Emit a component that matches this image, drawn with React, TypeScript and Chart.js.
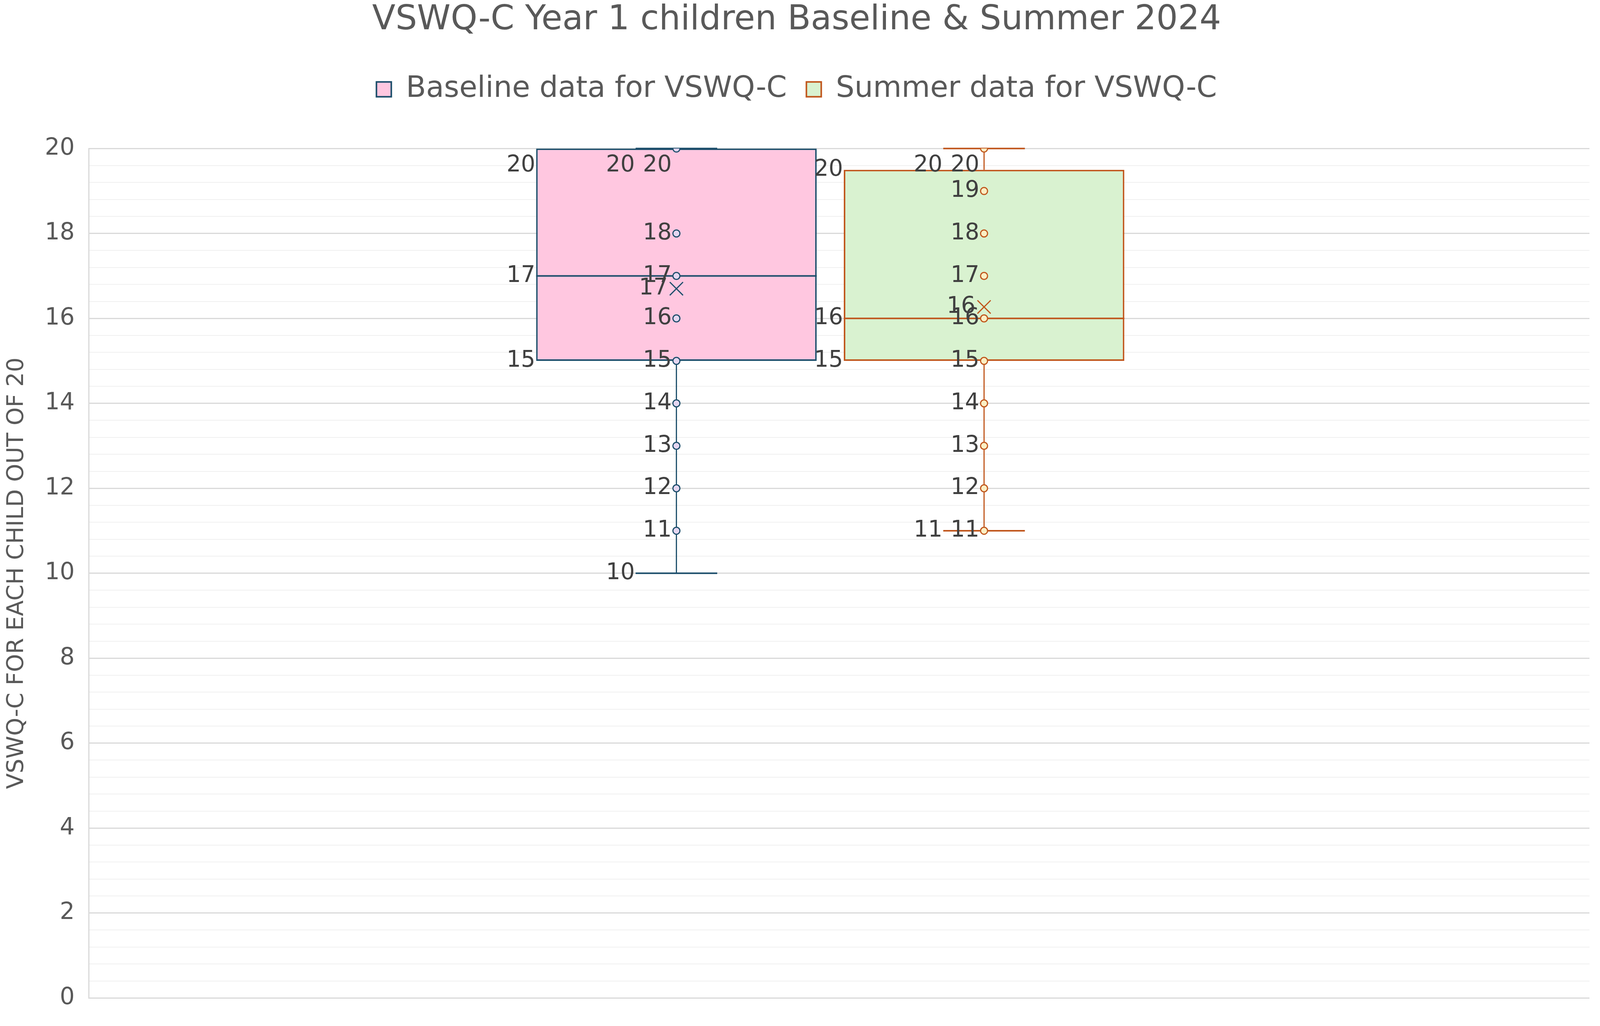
import React, { useEffect, useRef } from 'react';
import { Chart, registerables } from 'chart.js';

Chart.register(...registerables);

const chartTitle = 'VSWQ-C Year 1 children Baseline & Summer 2024';
const yAxisTitle = 'VSWQ-C FOR EACH CHILD OUT OF 20';
const seriesNames = ['Baseline data for VSWQ-C', 'Summer data for VSWQ-C'];

// five-number summaries: min, Q1, median, Q3, max
const baselineBox = [10, 15, 17, 20, 20];
const summerBox = [11, 15, 16, 19.5, 20];
const baselineMean = 16.7;
const summerMean = 16.27;

// inner points as Excel plots them
const baselinePoints = [20, 18, 17, 16, 15, 14, 13, 12, 11];
const summerPoints = [20, 19, 18, 17, 16, 15, 14, 13, 12, 11];

const yMin = 0;
const yMax = 20;
const yMajorStep = 2;
const yMinorStep = 0.4;

// layout / style
const FONT = "'DejaVu Sans', sans-serif";
const boxCenters = [0.3916, 0.5966];
const capHalf = 0.0272;
const boxFills = ['#FFC7E0', '#D9F2D0'];
const boxLines = ['#1C4E6B', '#C0561C'];
const markerFills = ['#E4D6F0', '#FBEFC4'];
const labelColor = '#404040';
const textColor = '#595959';

const boxes = [baselineBox, summerBox];
const means = [baselineMean, summerMean];
const points = [baselinePoints, summerPoints];

const isMajor = (v: number) => Math.abs(v / yMajorStep - Math.round(v / yMajorStep)) < 1e-6;

// extra room under the legend
const legendGap = {
  id: 'legendGap',
  beforeInit(chart: any) {
    const legend = chart.legend;
    if (!legend) return;
    const fit = legend.fit;
    legend.fit = function () {
      fit.call(this);
      this.height += 104;
    };
  },
};

// median, whiskers and caps, drawn right after each box
const whiskers = {
  id: 'whiskers',
  afterDatasetDraw(chart: any, args: any) {
    const i = args.index;
    if (i > 1) return;
    const { ctx } = chart;
    const xs = chart.scales.x;
    const ys = chart.scales.y;
    const [mn, q1, med, q3, mx] = boxes[i];
    const bar = chart.getDatasetMeta(i).data[0];
    const left = bar.x - bar.width / 2;
    const right = bar.x + bar.width / 2;
    const cx = xs.getPixelForValue(boxCenters[i]);
    const c0 = xs.getPixelForValue(boxCenters[i] - capHalf);
    const c1 = xs.getPixelForValue(boxCenters[i] + capHalf);
    ctx.save();
    ctx.strokeStyle = boxLines[i];
    ctx.lineWidth = 4;
    ctx.beginPath();
    ctx.moveTo(left, ys.getPixelForValue(med));
    ctx.lineTo(right, ys.getPixelForValue(med));
    ctx.moveTo(c0, ys.getPixelForValue(mn));
    ctx.lineTo(c1, ys.getPixelForValue(mn));
    ctx.moveTo(c0, ys.getPixelForValue(mx));
    ctx.lineTo(c1, ys.getPixelForValue(mx));
    ctx.stroke();
    ctx.lineWidth = 3;
    ctx.beginPath();
    ctx.moveTo(cx, ys.getPixelForValue(q1));
    ctx.lineTo(cx, ys.getPixelForValue(mn));
    ctx.moveTo(cx, ys.getPixelForValue(q3));
    ctx.lineTo(cx, ys.getPixelForValue(mx));
    ctx.stroke();
    ctx.restore();
  },
};

// Excel style data labels, left of each mark
const dataLabels = {
  id: 'dataLabels',
  afterDatasetsDraw(chart: any) {
    const { ctx, chartArea } = chart;
    const xs = chart.scales.x;
    const ys = chart.scales.y;
    const yPos = (v: number) => Math.max(ys.getPixelForValue(v), chartArea.top + 44);
    const put = (v: number, x: number) => ctx.fillText(String(Math.round(v)), x, yPos(v));
    ctx.save();
    ctx.font = `58px ${FONT}`;
    ctx.fillStyle = labelColor;
    ctx.textAlign = 'right';
    ctx.textBaseline = 'middle';
    for (let i = 0; i < 2; i++) {
      const [mn, q1, med, q3, mx] = boxes[i];
      const bar = chart.getDatasetMeta(i).data[0];
      const left = bar.x - bar.width / 2;
      const cx = xs.getPixelForValue(boxCenters[i]);
      const c0 = xs.getPixelForValue(boxCenters[i] - capHalf);
      put(q3, left - 2);
      put(med, left - 2);
      put(q1, left - 2);
      put(mx, c0 - 2);
      put(mn, c0 - 2);
      points[i].forEach((v) => put(v, cx - 12));
      put(means[i], cx - 22);
    }
    ctx.restore();
  },
};

export default function App() {
  const canvasRef = useRef<HTMLCanvasElement>(null);

  useEffect(() => {
    document.body.style.margin = '0';
    if (!canvasRef.current) return;

    const boxSets = seriesNames.map((name, i) => ({
      type: 'bar' as const,
      label: name,
      data: [{ x: boxCenters[i], y: [boxes[i][1], boxes[i][3]] }],
      backgroundColor: boxFills[i],
      borderColor: boxLines[i],
      borderWidth: 4,
      borderSkipped: false,
      grouped: false,
      categoryPercentage: 1,
      barPercentage: 0.912,
      order: 3,
    }));
    const pointSets = seriesNames.map((name, i) => ({
      type: 'scatter' as const,
      label: name + ' points',
      data: points[i].map((v) => ({ x: boxCenters[i], y: v })),
      pointRadius: 9,
      pointBorderWidth: 3,
      pointBackgroundColor: markerFills[i],
      pointBorderColor: boxLines[i],
      showLine: false,
      order: 1,
    }));
    const meanSets = seriesNames.map((name, i) => ({
      type: 'scatter' as const,
      label: name + ' mean',
      data: [{ x: boxCenters[i], y: means[i] }],
      pointStyle: 'crossRot',
      pointRadius: 24,
      pointBorderWidth: 3,
      pointBorderColor: boxLines[i],
      showLine: false,
      order: 1,
    }));

    const chart = new Chart(canvasRef.current, {
      type: 'bar',
      data: { datasets: [...boxSets, ...pointSets, ...meanSets] as any },
      options: {
        animation: false,
        responsive: true,
        maintainAspectRatio: false,
        events: [],
        layout: { padding: { top: 0, right: 17, bottom: 46, left: 0 } },
        plugins: {
          tooltip: { enabled: false },
          title: {
            display: true,
            text: chartTitle,
            color: textColor,
            font: { family: FONT, size: 87, weight: 'normal', lineHeight: 1.05 },
            padding: { top: 7, bottom: 43 },
          },
          legend: {
            display: true,
            position: 'top',
            labels: {
              color: textColor,
              font: { family: FONT, size: 75 },
              boxWidth: 38,
              boxHeight: 38,
              padding: 50,
              filter: (item: any) => item.datasetIndex < 2,
            },
          },
        },
        scales: {
          x: {
            type: 'linear',
            min: 0,
            max: 1,
            offset: false,
            display: false,
            ticks: { stepSize: 1 },
          },
          y: {
            min: yMin,
            max: yMax,
            ticks: {
              stepSize: yMinorStep,
              maxTicksLimit: 100,
              autoSkip: false,
              color: textColor,
              font: { family: FONT, size: 60 },
              padding: 36,
              callback: (v: any) => (isMajor(Number(v)) ? String(Math.round(Number(v))) : ''),
            },
            grid: {
              drawTicks: false,
              color: (c: any) => (isMajor(c.tick.value) ? '#D9D9D9' : '#F0F0F0'),
              lineWidth: (c: any) => (isMajor(c.tick.value) ? 3 : 2),
            },
            border: { display: true, color: '#D9D9D9', width: 3 },
            title: {
              display: true,
              text: yAxisTitle,
              color: textColor,
              font: { family: FONT, size: 59 },
              padding: { top: 8, bottom: 0 },
            },
          },
        },
      },
      plugins: [legendGap, whiskers, dataLabels],
    } as any);

    return () => chart.destroy();
  }, []);

  return (
    <div style={{ position: 'fixed', inset: 0 }}>
      <canvas ref={canvasRef} />
    </div>
  );
}
